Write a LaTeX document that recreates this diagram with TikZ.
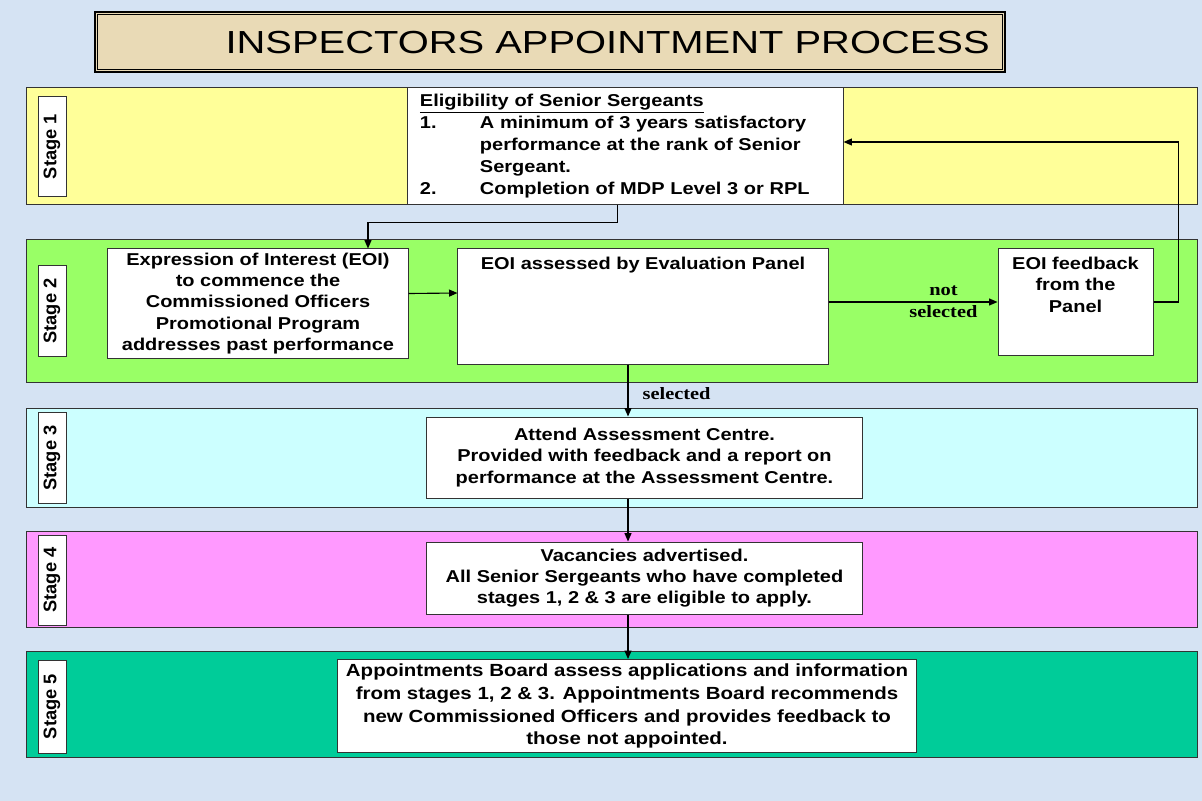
\documentclass[tikz,border=0pt]{standalone}
\usepackage{fontspec}
\setmainfont{Liberation Sans}
\newfontfamily\bodyfont{Liberation Sans}[FakeStretch=1.165]
\newfontfamily\headfont{Liberation Sans}[FakeStretch=1.25]
\newfontfamily\notefont{Liberation Serif}[FakeStretch=1.18]
\usetikzlibrary{arrows.meta,positioning,calc}
\definecolor{sky}{HTML}{D5E3F3}
\definecolor{parchment}{HTML}{E9DAB6}
\definecolor{stageone}{HTML}{FFFF99}
\definecolor{stagetwo}{HTML}{99FF66}
\definecolor{stagethree}{HTML}{CCFFFF}
\definecolor{stagefour}{HTML}{FF99FF}
\definecolor{stagefive}{HTML}{00CC99}

\begin{document}
\begin{tikzpicture}[
    x=0.025cm, y=-0.025cm,
    band/.style={draw=black!80, line width=0.7pt, minimum width=29.25cm, inner sep=0pt},
    stagelbl/.style={draw=black!80, fill=white, line width=0.7pt, rotate=90, minimum height=0.7cm, inner sep=0pt, font=\fontsize{13}{15}\selectfont\bfseries},
    box/.style={draw=black!80, fill=white, line width=0.7pt, align=center, inner sep=0pt, font=\bodyfont\fontsize{12.2}{15.2}\selectfont\bfseries},
    toplbl/.style={anchor=north, inner sep=0.2cm, align=center, font=\bodyfont\fontsize{12.2}{15.3}\selectfont\bfseries},
    note/.style={inner sep=0pt, align=center, font=\notefont\fontsize{12.3}{15.6}\selectfont\bfseries},
    arr/.style={-{Triangle[length=6pt,width=5pt]}, line width=0.8pt}
]
\fill[sky] (0,0) rectangle (1202,801);

% title
\node[draw, line width=1.8pt, fill=parchment, minimum width=22.75cm, minimum height=1.5cm] (titleframe) at (550,42) {};
\draw[line width=0.6pt] ($(titleframe.north west)+(4,4)$) rectangle ($(titleframe.south east)+(-4,-4)$);
\node[anchor=east, inner sep=0pt, font=\headfont\fontsize{22.7}{27}\selectfont] (title) at (990,43) {INSPECTORS APPOINTMENT PROCESS};

% stage bands
\node[band, fill=stageone, minimum height=2.9cm] (band1) at (612,146) {};
\node[band, fill=stagetwo, minimum height=3.55cm] (band2) at (612,311) {};
\node[band, fill=stagethree, minimum height=2.45cm] (band3) at (612,458) {};
\node[band, fill=stagefour, minimum height=2.4cm] (band4) at (612,579) {};
\node[band, fill=stagefive, minimum height=2.65cm] (band5) at (612,704) {};

\node[stagelbl, minimum width=2.475cm] (stage1) at (52,146.5) {Stage 1};
\node[stagelbl, minimum width=2.25cm] (stage2) at (52,311) {Stage 2};
\node[stagelbl, minimum width=2.25cm] (stage3) at (52,458) {Stage 3};
\node[stagelbl, minimum width=2.25cm] (stage4) at (52,580) {Stage 4};
\node[stagelbl, minimum width=2.325cm] (stage5) at (52,706.5) {Stage 5};

% boxes
\node[box, align=left, text width=10.275cm, inner xsep=0.3cm, minimum height=2.9cm, font=\bodyfont\fontsize{12.2}{15.5}\selectfont\bfseries] (elig) at (625.5,146) {\underline{Eligibility of Senior Sergeants}\\
\makebox[1.5cm][l]{1.}A minimum of 3 years satisfactory\\
\hspace*{1.5cm}performance at the rank of Senior\\
\hspace*{1.5cm}Sergeant.\\
\makebox[1.5cm][l]{2.}Completion of MDP Level 3 or RPL};
\node[box, minimum width=7.5cm, minimum height=2.725cm] (eoi) at (258,303.5) {Expression of Interest (EOI)\\to commence the\\Commissioned Officers\\Promotional Program\\addresses past performance};
\node[box, minimum width=9.25cm, minimum height=2.875cm, label={[toplbl]north:EOI assessed by Evaluation Panel}] (assess) at (643,306.5) {};
\node[box, minimum width=3.875cm, minimum height=2.65cm, label={[toplbl]north:EOI feedback\\from the\\Panel}] (fb) at (1075.5,302) {};
\node[box, minimum width=10.875cm, minimum height=2.025cm] (centre) at (644.5,457.5) {Attend Assessment Centre.\\Provided with feedback and a report on\\performance at the Assessment Centre.};
\node[box, minimum width=10.875cm, minimum height=1.8cm] (vacancy) at (644.5,578) {Vacancies advertised.\\All Senior Sergeants who have completed\\stages 1, 2 \& 3 are eligible to apply.};
\node[box, minimum width=14.45cm, minimum height=2.325cm, font=\bodyfont\fontsize{12.5}{16.3}\selectfont\bfseries] (board) at (627,706) {Appointments Board assess applications and information\\from stages 1, 2 \& 3. Appointments Board recommends\\new Commissioned Officers and provides feedback to\\those not appointed.};

% connectors
\draw[arr] ($(elig.south)+(-8,0)$) -- ++(0,18) -| ($(eoi.north)+(110,0)$);
\draw[arr] ($(eoi.east)+(0,-10)$) -- ($(assess.west)+(0,-13.5)$);
\draw[arr] (assess.east |- fb.west) -- node[note, pos=0.68] {not\\selected} (fb.west);
\draw[arr] (fb.east) -- ++(25,0) |- ($(elig.east)+(0,-4)$);
\coordinate (spine) at ($(assess.south)+(-15,0)$);
\draw[arr] (spine) -- node[note, anchor=west, xshift=0.35cm, pos=0.55] {selected} (spine |- centre.north);
\draw[arr] (spine |- centre.south) -- (spine |- vacancy.north);
\draw[arr] (spine |- vacancy.south) -- (spine |- board.north);
\end{tikzpicture}
\end{document}
